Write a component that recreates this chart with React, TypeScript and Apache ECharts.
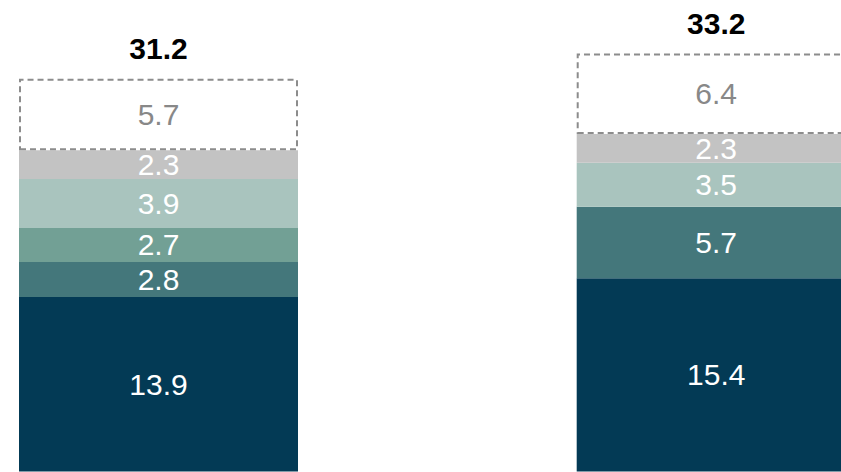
import React, { useEffect, useRef } from "react";
import * as echarts from "echarts";

const categories = ["A", "B"];
const seriesBase = [13.9, 15.4];
const seriesTeal = [2.8, 5.7];
const seriesSage = [2.7, "-"];
const seriesMint = [3.9, 3.5];
const seriesGrey = [2.3, 2.3];
const seriesDashed = [5.7, 6.4];
const totals = [31.2, 33.2];

const FONT = "'Liberation Sans', Arial, Helvetica, sans-serif";

export default function App() {
  const ref = useRef<HTMLDivElement>(null);
  useEffect(() => {
    if (!ref.current) return;
    const chart = echarts.init(ref.current, undefined, { renderer: "svg" });
    const inside = {
      show: true,
      position: "inside",
      color: "#ffffff",
      fontSize: 30,
      fontFamily: FONT,
    };
    const mk = (name: string, data: any[], color: string, extra: any = {}) => ({
      name,
      type: "bar",
      stack: "total",
      barWidth: 279,
      clip: false,
      data,
      itemStyle: { color },
      label: inside,
      emphasis: { disabled: true },
      ...extra,
    });
    chart.setOption({
      animation: false,
      grid: { left: 158.5, right: 124.8, top: 7.15, bottom: 0.5 },
      xAxis: { type: "category", data: categories, boundaryGap: false, show: false },
      yAxis: { type: "value", min: 0, max: 37, show: false, splitLine: { show: false } },
      series: [
        mk("s1", seriesBase, "#033a55"),
        mk("s2", seriesTeal, "#44777b"),
        mk("s3", seriesSage, "#72a095"),
        mk("s4", seriesMint, "#a9c4be"),
        mk("s5", seriesGrey, "#c3c3c3"),
        mk("s6", seriesDashed, "#ffffff", {
          itemStyle: {
            color: "#ffffff",
            borderColor: "#8c8c8c",
            borderWidth: 2,
            borderType: [6, 4],
          },
          label: { ...inside, color: "#888888" },
        }),
        {
          name: "total",
          type: "bar",
          stack: "total",
          barWidth: 279,
          clip: false,
          data: totals.map(() => 0),
          itemStyle: { color: "transparent" },
          emphasis: { disabled: true },
          label: {
            show: true,
            position: "top",
            distance: 15,
            color: "#000000",
            fontSize: 30,
            fontWeight: "bold",
            fontFamily: FONT,
            formatter: (p: any) => String(totals[p.dataIndex]),
          },
        },
      ],
    });
    return () => chart.dispose();
  }, []);
  return (
    <div
      ref={ref}
      style={{ position: "fixed", left: 0, top: 0, width: 841, height: 472, background: "#ffffff" }}
    />
  );
}
